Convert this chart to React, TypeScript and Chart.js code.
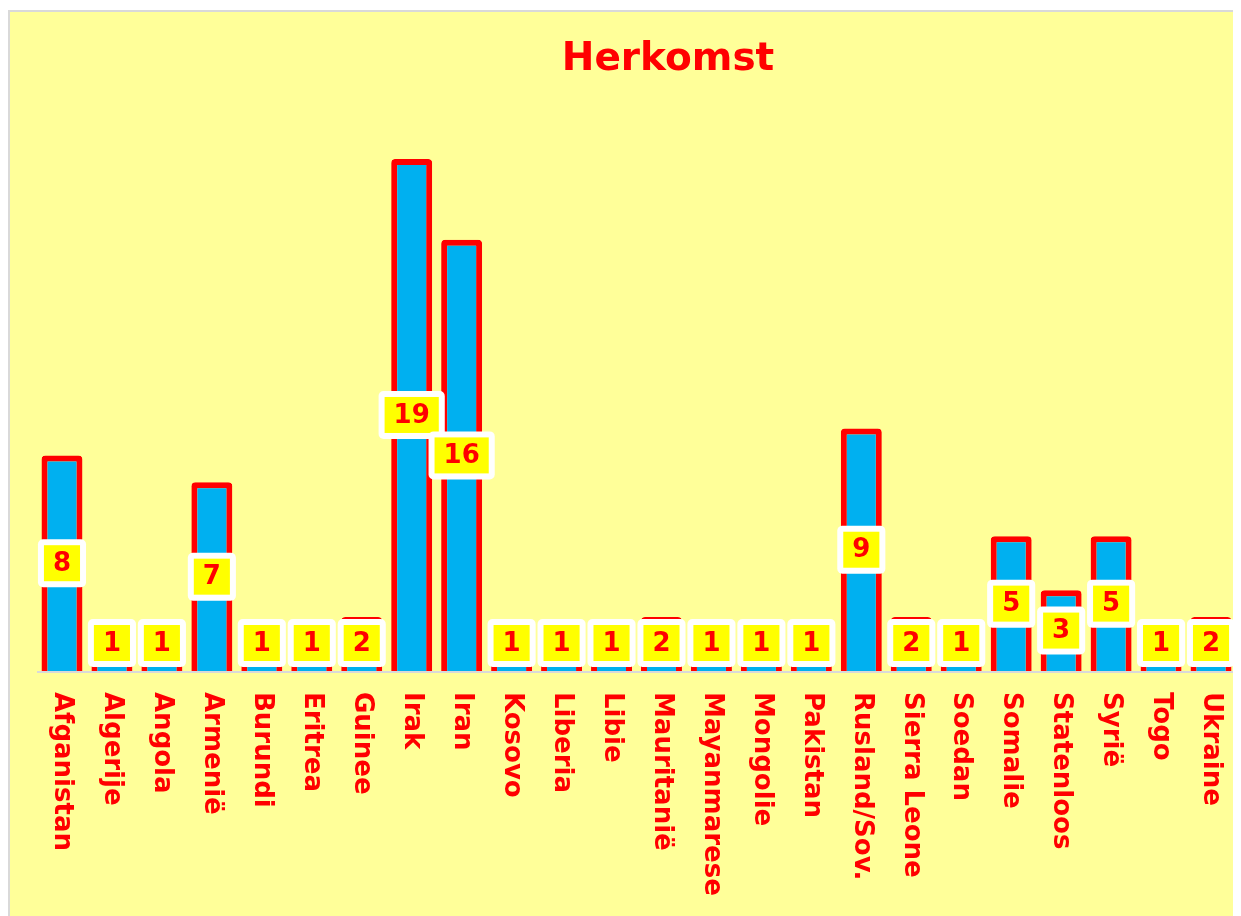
import React, { useEffect, useRef } from "react";
import { Chart, registerables } from "chart.js";

Chart.register(...registerables);

const titleText = "Herkomst";

const categories = [
  "Afganistan", "Algerije", "Angola", "Armenië", "Burundi", "Eritrea", "Guinee",
  "Irak", "Iran", "Kosovo", "Liberia", "Libie", "Mauritanië", "Mayanmarese",
  "Mongolie", "Pakistan", "Rusland/Sov.", "Sierra Leone", "Soedan", "Somalie",
  "Statenloos", "Syrië", "Togo", "Ukraine",
];

const counts = [8, 1, 1, 7, 1, 1, 2, 19, 16, 1, 1, 1, 2, 1, 1, 1, 9, 2, 1, 5, 3, 5, 1, 2];

const RED = "#FF0000";
const BLUE = "#00B0F0";
const FONT = "'DejaVu Sans', Verdana, sans-serif";

const overlayPlugin = {
  id: "overlay",
  afterDatasetsDraw(chart: any) {
    const ctx = chart.ctx as CanvasRenderingContext2D;
    const area = chart.chartArea;
    const meta = chart.getDatasetMeta(0);
    ctx.save();

    // x axis line
    ctx.strokeStyle = "#D9D9D9";
    ctx.lineWidth = 2;
    ctx.beginPath();
    ctx.moveTo(area.left, area.bottom + 1);
    ctx.lineTo(area.right, area.bottom + 1);
    ctx.stroke();

    // value labels
    ctx.font = `bold 26px ${FONT}`;
    ctx.textAlign = "center";
    ctx.textBaseline = "middle";
    meta.data.forEach((bar: any, i: number) => {
      const p = bar.getProps(["x", "y", "base"], true);
      const text = String(counts[i]);
      const tw = ctx.measureText(text).width;
      const iw = tw + 18;
      const ih = 36;
      const b = 6;
      let cy = (p.y + p.base) / 2;
      const maxCy = p.base - ih / 2 - b - 4;
      if (cy > maxCy) cy = maxCy;
      ctx.fillStyle = "#FFFFFF";
      ctx.beginPath();
      (ctx as any).roundRect(p.x - iw / 2 - b, cy - ih / 2 - b, iw + 2 * b, ih + 2 * b, 5);
      ctx.fill();
      ctx.fillStyle = "#FFFF00";
      ctx.fillRect(p.x - iw / 2, cy - ih / 2, iw, ih);
      ctx.fillStyle = RED;
      ctx.fillText(text, p.x, cy + 1);
    });

    // category labels (rotated clockwise)
    ctx.font = `bold 26px ${FONT}`;
    ctx.textAlign = "left";
    ctx.textBaseline = "middle";
    ctx.fillStyle = RED;
    const xs = chart.scales.x;
    categories.forEach((c, i) => {
      const x = xs.getPixelForValue(i);
      ctx.save();
      ctx.translate(x, area.bottom + 21);
      ctx.rotate(Math.PI / 2);
      ctx.fillText(c, 0, 0);
      ctx.restore();
    });

    // title
    ctx.font = `bold 39px ${FONT}`;
    ctx.textAlign = "center";
    ctx.textBaseline = "alphabetic";
    ctx.fillStyle = RED;
    ctx.fillText(titleText, 658, 58);

    ctx.restore();
  },
};

export default function App() {
  const ref = useRef<HTMLCanvasElement | null>(null);

  useEffect(() => {
    if (!ref.current) return;
    const chart = new Chart(ref.current, {
      type: "bar",
      data: {
        labels: categories,
        datasets: [
          {
            data: counts,
            backgroundColor: BLUE,
            borderColor: RED,
            borderWidth: 6,
            borderSkipped: "start",
            borderRadius: 4,
            barPercentage: 0.82,
            categoryPercentage: 1,
          },
        ],
      },
      options: {
        animation: false,
        responsive: false,
        maintainAspectRatio: false,
        layout: { padding: { left: 27, right: 5, top: 120, bottom: 245 } },
        plugins: {
          legend: { display: false },
          title: { display: false },
          tooltip: { enabled: false },
        },
        scales: {
          x: { display: false },
          y: { display: false, min: 0, max: 20 },
        },
      },
      plugins: [overlayPlugin],
    });
    return () => chart.destroy();
  }, []);

  return (
    <div
      style={{
        marginTop: 2,
        width: "calc(100vw - 8px)",
        height: "calc(100vh - 10px)",
        boxSizing: "border-box",
        borderLeft: "2px solid #D9D9D9",
        borderTop: "2px solid #D9D9D9",
        background: "#FFFF99",
        overflow: "hidden",
      }}
    >
      <canvas ref={ref} width={1231} height={904} style={{ display: "block" }} />
    </div>
  );
}
